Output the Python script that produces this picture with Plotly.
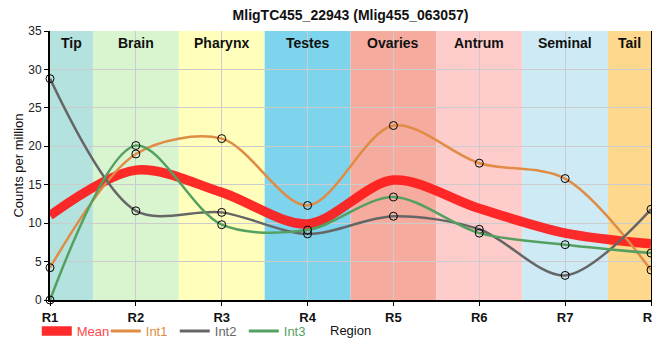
import plotly.graph_objects as go

categories = ["R1", "R2", "R3", "R4", "R5", "R6", "R7", "R8"]
regions = ["Tip", "Brain", "Pharynx", "Testes", "Ovaries", "Antrum", "Seminal", "Tail"]
region_colors = ["#b4e2de", "#d9f5d0", "#ffffbb", "#7ed4ec", "#f5ab9e", "#ffcccc", "#ceeaf4", "#fed88c"]

mean_vals = [11.0, 16.9, 14.0, 9.9, 15.6, 11.9, 8.7, 7.3]
int1_vals = [4.2, 19.0, 21.0, 12.3, 22.7, 17.8, 15.8, 3.9]
int2_vals = [28.8, 11.6, 11.4, 8.6, 10.9, 9.2, 3.2, 11.8]
int3_vals = [0.0, 20.1, 9.8, 9.1, 13.4, 8.7, 7.2, 6.1]

FONT = "Liberation Sans"
SMOOTH = 0.9
fig = go.Figure()

n = len(categories)
for i, (r, c) in enumerate(zip(regions, region_colors)):
    x0 = max(i - 0.5, 0)
    x1 = min(i + 0.5, n - 1)
    fig.add_shape(type="rect", xref="x", yref="paper", x0=x0, x1=x1, y0=0, y1=1,
                  fillcolor=c, line=dict(width=0), layer="below")
    fig.add_annotation(x=(x0 + x1) / 2, y=1, xref="x", yref="paper", yanchor="top",
                       yshift=-2, text="<b>%s</b>" % r, showarrow=False,
                       font=dict(family=FONT, size=14, color="#111"))

fig.add_trace(go.Scatter(x=categories, y=mean_vals, mode="lines",
                         name="<span style='color:#ff4848'>Mean</span>",
                         line=dict(color="rgba(255,25,25,0.92)", width=9.5, shape="spline", smoothing=SMOOTH)))
series = [("Int1", int1_vals, "#e08c45"), ("Int2", int2_vals, "#666666"), ("Int3", int3_vals, "#55a060")]
for name, vals, col in series:
    fig.add_trace(go.Scatter(x=categories, y=vals, mode="lines+markers",
                             name=name, showlegend=False,
                             line=dict(color=col, width=2.5, shape="spline", smoothing=SMOOTH),
                             marker=dict(symbol="circle-open", size=8, color="black",
                                         line=dict(width=1, color="black")),
                             cliponaxis=False))
for name, vals, col in series:
    fig.add_trace(go.Scatter(x=[None], y=[None], mode="lines",
                             name="<span style='color:%s'>%s</span>" % (col, name),
                             line=dict(color=col, width=3)))

# page body has an 8px default margin; figure sized/margined to compensate
fig.update_layout(
    width=652, height=338,
    margin=dict(l=42, r=9, t=23, b=46, autoexpand=False),
    paper_bgcolor="white", plot_bgcolor="white",
    title=dict(text="<b>MligTC455_22943 (Mlig455_063057)</b>", x=0.5, xanchor="center",
               xref="paper", yref="container", y=0.993, yanchor="top", pad=dict(t=0),
               font=dict(family=FONT, size=14, color="#111")),
    font=dict(family=FONT, size=12, color="#222"),
    showlegend=True,
    legend=dict(orientation="h", x=-0.022, xanchor="left", y=-0.115, yanchor="middle",
                font=dict(family=FONT, size=13), itemwidth=30,
                entrywidth=24, entrywidthmode="pixels",
                bgcolor="rgba(0,0,0,0)", traceorder="normal"),
    xaxis=dict(type="category", range=[0, n - 1], showgrid=True, gridcolor="#cccccc",
               showline=True, linecolor="black", linewidth=2, ticks="outside", ticklen=4,
               tickcolor="black", automargin=False, ticklabeloverflow="allow",
               tickfont=dict(family=FONT, size=13, color="#111"), tickprefix="<b>", ticksuffix="</b>"),
    yaxis=dict(range=[0, 35], dtick=5, showgrid=True, gridcolor="#cccccc",
               showline=True, linecolor="black", linewidth=2, ticks="outside", ticklen=4,
               tickcolor="black", zeroline=False, automargin=False, mirror=True,
               title=dict(text="Counts per million", font=dict(family=FONT, size=13, color="#111"), standoff=2),
               tickfont=dict(family=FONT, size=12, color="#222")),
)
fig.add_annotation(x=0.5, y=-0.115, xref="paper", yref="paper", text="Region", showarrow=False,
                   yanchor="middle", font=dict(family=FONT, size=13, color="#111"))

fig.write_html("out.html")
